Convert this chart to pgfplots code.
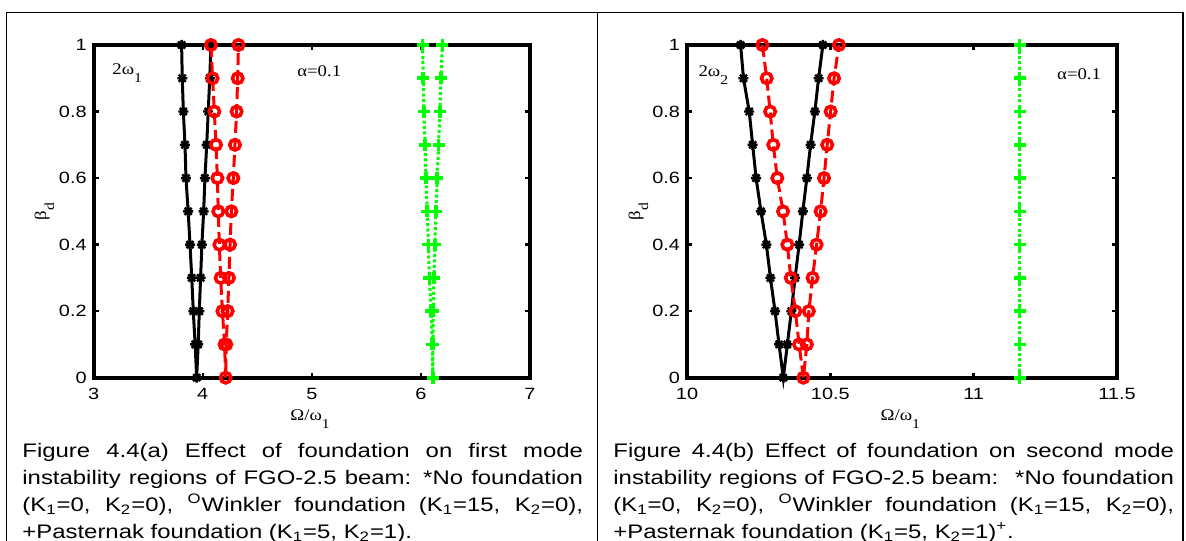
\documentclass[border=0pt]{standalone}
\usepackage{fontspec}
\setmainfont[FakeStretch=1.22]{Liberation Sans}
\newfontfamily\tnr[FakeStretch=1.15]{Liberation Serif}
\usepackage{pgfplots}
\pgfplotsset{compat=1.18}
\newcommand\lab{\tnr\fontsize{8.15}{9}\selectfont}
\newcommand\sub[1]{\raisebox{-4pt}{\fontsize{6.8}{7}\selectfont #1}}
\newcommand\capfont{\fontsize{9.8}{13.5}\selectfont}
\definecolor{mgreen}{rgb}{0,1,0}
\pgfdeclareplotmark{mstar}{%
 \pgfpathmoveto{\pgfqpoint{-\pgfplotmarksize}{0pt}}\pgfpathlineto{\pgfqpoint{\pgfplotmarksize}{0pt}}%
 \pgfpathmoveto{\pgfqpoint{0pt}{-\pgfplotmarksize}}\pgfpathlineto{\pgfqpoint{0pt}{\pgfplotmarksize}}%
 \pgfpathmoveto{\pgfqpoint{-.707\pgfplotmarksize}{-.707\pgfplotmarksize}}\pgfpathlineto{\pgfqpoint{.707\pgfplotmarksize}{.707\pgfplotmarksize}}%
 \pgfpathmoveto{\pgfqpoint{-.707\pgfplotmarksize}{.707\pgfplotmarksize}}\pgfpathlineto{\pgfqpoint{.707\pgfplotmarksize}{-.707\pgfplotmarksize}}%
 \pgfusepathqstroke}
\pgfplotsset{
  panel/.style={
    scale only axis, height=166.35pt, ymin=0, ymax=1,
    ytick={0,0.2,0.4,0.6,0.8,1}, yticklabels={0,0.2,0.4,0.6,0.8,1},
    axis line style={line width=2pt, line join=miter},
    tick style={line width=1.2pt, black},
    major tick length=2.5pt, tick align=inside,
    /pgf/number format/assume math mode=true,
    tick label style={font=\fontsize{8.15}{9}\selectfont},
    xticklabel style={yshift=-1.8pt},
    clip=false,
    xlabel={\lab Ω/ω\sub{1}},
    xlabel style={at={(axis description cs:0.496,-0.129)}, anchor=base},
    ylabel={\lab β\sub{d}},
    ylabel style={at={(axis description cs:-0.113,0.5)}, anchor=center},
  },
  blk/.style={black, line width=1.5pt, mark=mstar, mark size=2.5pt, mark options={solid, line width=1.2pt}},
  rd/.style={red, line width=1.5pt, dash pattern=on 6pt off 2.5pt, mark=o, mark size=2.6pt, mark options={solid, line width=1.8pt}},
  gr/.style={mgreen, line width=1.5pt, dash pattern=on 1.5pt off 1.2pt, mark=+, mark size=3pt, mark options={solid, line width=1.8pt}},
}
\begin{document}
\begin{tikzpicture}
\useasboundingbox (0,0) rectangle (593pt,270pt);
\clip (0,0) rectangle (593pt,270pt);
\draw[line width=0.7pt] (3.35pt,-10pt) -- (3.35pt,263.75pt) -- (591.5pt,263.75pt) -- (591.5pt,-10pt);
\draw[line width=0.7pt] (298.75pt,-10pt) -- (298.75pt,263.75pt);

\begin{axis}[panel, at={(46.85pt,81.15pt)}, anchor=south west, width=218.15pt,
  xmin=3, xmax=7, xtick={3,4,5,6,7}, xticklabels={3,4,5,6,7}]
\addplot[blk] coordinates {(3.806,1)(3.812,0.9)(3.822,0.8)(3.837,0.7)(3.846,0.6)(3.866,0.5)(3.883,0.4)(3.899,0.3)(3.913,0.2)(3.930,0.1)(3.944,0)(3.958,0.1)(3.968,0.2)(3.980,0.3)(3.992,0.4)(4.008,0.5)(4.020,0.6)(4.036,0.7)(4.050,0.8)(4.064,0.9)(4.075,1)};
\addplot[rd] coordinates {(4.075,1)(4.090,0.9)(4.106,0.8)(4.121,0.7)(4.134,0.6)(4.142,0.5)(4.152,0.4)(4.164,0.3)(4.180,0.2)(4.200,0.1)(4.210,0)(4.215,0.1)(4.228,0.2)(4.240,0.3)(4.250,0.4)(4.262,0.5)(4.280,0.6)(4.295,0.7)(4.310,0.8)(4.320,0.9)(4.327,1)};
\addplot[gr] coordinates {(6.015,1)(6.021,0.9)(6.027,0.8)(6.038,0.7)(6.046,0.6)(6.058,0.5)(6.068,0.4)(6.077,0.3)(6.094,0.2)(6.104,0.1)(6.108,0)(6.110,0.1)(6.113,0.2)(6.119,0.3)(6.128,0.4)(6.137,0.5)(6.150,0.6)(6.162,0.7)(6.174,0.8)(6.183,0.9)(6.196,1)};
\node[anchor=base west, font=\lab, inner sep=0] at (axis cs:3.168,0.91) {2ω\sub{1}};
\node[anchor=base west, font=\lab, inner sep=0] at (axis cs:4.863,0.906) {α=0.1};
\end{axis}

\begin{axis}[panel, at={(343.5pt,81.15pt)}, anchor=south west, width=215pt,
  xmin=10, xmax=11.5, xtick={10,10.5,11,11.5}, xticklabels={10,10.5,11,11.5}]
\addplot[blk] coordinates {(10.187,1)(10.197,0.9)(10.217,0.8)(10.229,0.7)(10.241,0.6)(10.258,0.5)(10.277,0.4)(10.291,0.3)(10.307,0.2)(10.321,0.1)(10.336,0)(10.350,0.1)(10.364,0.2)(10.377,0.3)(10.391,0.4)(10.404,0.5)(10.418,0.6)(10.431,0.7)(10.446,0.8)(10.459,0.9)(10.474,1)};
\addplot[rd] coordinates {(10.263,1)(10.278,0.9)(10.290,0.8)(10.301,0.7)(10.315,0.6)(10.335,0.5)(10.350,0.4)(10.362,0.3)(10.378,0.2)(10.391,0.1)(10.406,0)(10.418,0.1)(10.425,0.2)(10.438,0.3)(10.452,0.4)(10.466,0.5)(10.478,0.6)(10.489,0.7)(10.501,0.8)(10.513,0.9)(10.530,1)};
\addplot[gr] coordinates {(11.16,0)(11.16,0.1)(11.16,0.2)(11.16,0.3)(11.16,0.4)(11.16,0.5)(11.16,0.6)(11.16,0.7)(11.16,0.8)(11.16,0.9)(11.16,1)};
\node[anchor=base west, font=\lab, inner sep=0] at (axis cs:10.039,0.906) {2ω\sub{2}};
\node[anchor=base west, font=\lab, inner sep=0] at (axis cs:11.29,0.895) {α=0.1};
\end{axis}

\node[anchor=base west, inner sep=0] at (11pt,41.5pt) {\parbox[t]{280.3pt}{\capfont\hyphenpenalty=10000\emergencystretch=2em
Figure 4.4(a) Effect of foundation on first mode\linebreak
instability regions of FGO-2.5 beam: *No foundation\linebreak
(K\textsubscript{1}=0, K\textsubscript{2}=0), \textsuperscript{O}Winkler foundation (K\textsubscript{1}=15, K\textsubscript{2}=0),\linebreak
+Pasternak foundation (K\textsubscript{1}=5, K\textsubscript{2}=1).}};
\node[anchor=base west, inner sep=0] at (306.5pt,41.5pt) {\parbox[t]{280.3pt}{\capfont\hyphenpenalty=10000\emergencystretch=2em
Figure 4.4(b) Effect of foundation on second mode\linebreak
instability regions of FGO-2.5 beam: \ *No foundation\linebreak
(K\textsubscript{1}=0, K\textsubscript{2}=0), \textsuperscript{O}Winkler foundation (K\textsubscript{1}=15, K\textsubscript{2}=0),\linebreak
+Pasternak foundation (K\textsubscript{1}=5, K\textsubscript{2}=1)\textsuperscript{+}.}};
\end{tikzpicture}
\end{document}
